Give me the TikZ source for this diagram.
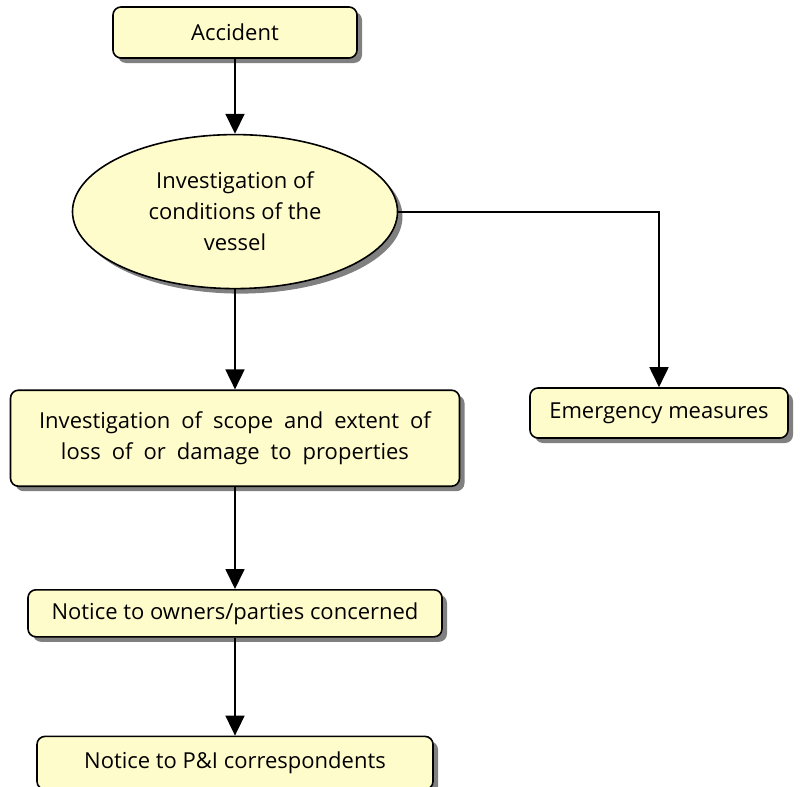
\documentclass[tikz,border=0pt]{standalone}
\usepackage{fontspec}
\setmainfont{Open Sans}
\usepackage{xcolor}
\colorlet{BOXCOLOR}{yellow!20}
\colorlet{SHADOWCOLOR}{black!50}
\usepackage{tikz}
\usetikzlibrary{shapes,arrows.meta,positioning,shadows}
\tikzset{
  basic-style/.style = {
    draw, line width=1.6pt,
    fill=BOXCOLOR,
    drop shadow={shadow xshift=5pt, shadow yshift=-5pt, fill=SHADOWCOLOR, opacity=1},
    inner sep=0pt,
    font=\fontsize{22}{31}\selectfont
  },
  box-style/.style = {
    basic-style,
    rectangle, rounded corners=8pt,
    minimum width=#1
  },
  oval-style/.style = {
    basic-style,
    ellipse, align=center,
    minimum width=325pt, minimum height=154pt
  },
  link-style/.style = {draw, line width=1.8pt, -{Triangle[width=19pt,length=20pt]}},
  every edge/.style = {link-style}
}
\begin{document}
\begin{tikzpicture}[x=1pt,y=-1pt]
    \useasboundingbox (0,0) rectangle (801,787);

    %%% main column
    \node[box-style=244pt, minimum height=51pt] (accident) at (235,32.5) {Accident};
    \node[oval-style, below=75pt of accident] (vessel)
      {Investigation of\\conditions of the\\vessel};
    \node[box-style=449pt, minimum height=96pt, align=center, below=100pt of vessel] (scope)
      {\spaceskip=0.5em Investigation of scope and extent of\\
       \spaceskip=0.5em loss of or damage to properties};
    \node[box-style=414pt, minimum height=47pt, below=102pt of scope] (owners)
      {Notice to owners/parties concerned};
    \node[box-style=396pt, minimum height=53pt, below=98pt of owners] (pandi)
      {Notice to P\&I correspondents};

    %%% side branch
    \node[box-style=258pt, minimum height=50pt] (emergency) at (659,413) {Emergency measures};

    %%% arrows
    \path (accident) edge (vessel);
    \path (vessel) edge (scope);
    \path (scope) edge (owners);
    \path (owners) edge (pandi);
    \draw[link-style] (vessel.east) -| (emergency);
\end{tikzpicture}
\end{document}
